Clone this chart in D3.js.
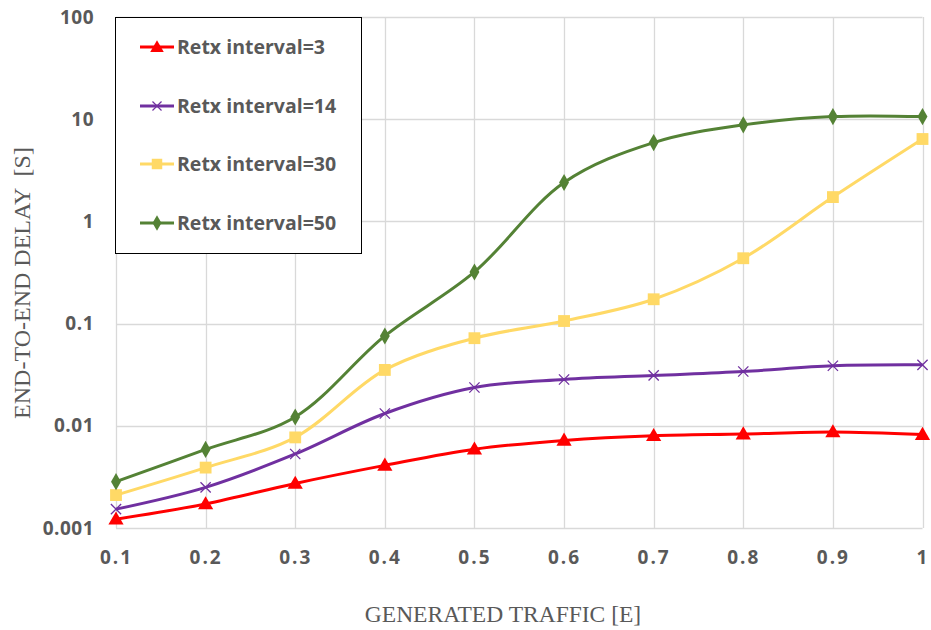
<!DOCTYPE html>
<html>
<head>
<meta charset="utf-8">
<script src="https://cdn.jsdelivr.net/npm/d3@7/dist/d3.min.js"></script>
<style>
  body { margin: 0; background: #fff; }
  svg { display: block; }
</style>
</head>
<body>
<svg id="chart"></svg>
<script>
// data
const traffic = [0.1, 0.2, 0.3, 0.4, 0.5, 0.6, 0.7, 0.8, 0.9, 1.0]
const retx3  = [0.00122, 0.00172, 0.00273, 0.0041, 0.0059, 0.0072, 0.0080, 0.0083, 0.0087, 0.0082]
const retx14 = [0.00153, 0.0025, 0.0053, 0.0132, 0.0237, 0.0284, 0.0311, 0.034, 0.0387, 0.0395]
const retx30 = [0.0021, 0.0039, 0.0077, 0.0352, 0.072, 0.106, 0.173, 0.436, 1.73, 6.4]
const retx50 = [0.00284, 0.00587, 0.0122, 0.0757, 0.32, 2.4, 5.9, 8.8, 10.6, 10.6]
const seriesNames = ['Retx interval=3', 'Retx interval=14', 'Retx interval=30', 'Retx interval=50']
const yTicks = [0.001, 0.01, 0.1, 1, 10, 100]
const yTickLabels = ['0.001', '0.01', '0.1', '1', '10', '100']

const width = 931
const height = 630
const margin = { top: 17, right: 8, bottom: 102, left: 116 }

const textColour = '#595959'
const gridColour = '#d9d9d9'

const series = [
  { name: seriesNames[0], values: retx3,  colour: '#ff0000', symbol: 'triangle' },
  { name: seriesNames[1], values: retx14, colour: '#7030a0', symbol: 'cross' },
  { name: seriesNames[2], values: retx30, colour: '#ffd966', symbol: 'square' },
  { name: seriesNames[3], values: retx50, colour: '#548235', symbol: 'diamond' }
]

const svg = d3.select('#chart')
  .attr('width', width)
  .attr('height', height)

/// Scales ///
const xScale = d3.scaleLinear()
  .domain([0.1, 1])
  .range([margin.left, width - margin.right - 0.5])

const yScale = d3.scaleLog()
  .domain([0.001, 100])
  .range([height - margin.bottom, margin.top])

/// Gridlines ///
const grid = svg.append('g')
grid.selectAll('.hgrid')
  .data(yTicks)
  .join('line')
  .attr('x1', margin.left).attr('x2', xScale(1))
  .attr('y1', d => Math.round(yScale(d)) + 0.5)
  .attr('y2', d => Math.round(yScale(d)) + 0.5)
  .attr('stroke', gridColour)
  .attr('stroke-width', 1.3)
grid.selectAll('.vgrid')
  .data(traffic)
  .join('line')
  .attr('x1', d => Math.round(xScale(d)) + 0.5)
  .attr('x2', d => Math.round(xScale(d)) + 0.5)
  .attr('y1', yScale(100)).attr('y2', yScale(0.001))
  .attr('stroke', gridColour)
  .attr('stroke-width', 1.3)

/// Axes (labels only) ///
const xAxis = g => g
  .attr('transform', `translate(0, ${height - margin.bottom})`)
  .call(d3.axisBottom(xScale)
    .tickValues(traffic)
    .tickSize(0)
    .tickPadding(23)
    .tickFormat(d => d === 1 ? '1' : d3.format('.1f')(d))
  )
  .call(g => g.select('.domain').remove())
  .call(g => g.selectAll('text')
    .attr('font-family', '"Open Sans", sans-serif')
    .attr('font-size', '19px')
    .attr('font-weight', 'bold')
    .attr('letter-spacing', '2px')
    .attr('fill', textColour)
  )

const yAxis = g => g
  .attr('transform', `translate(${margin.left}, 0)`)
  .call(d3.axisLeft(yScale)
    .tickValues(yTicks)
    .tickSize(0)
    .tickPadding(22)
    .tickFormat((d, i) => yTickLabels[i])
  )
  .call(g => g.select('.domain').remove())
  .call(g => g.selectAll('text')
    .attr('font-family', '"Open Sans", sans-serif')
    .attr('font-size', '19px')
    .attr('font-weight', 'bold')
    .attr('letter-spacing', '0.5px')
    .attr('fill', textColour)
  )

svg.append('g').call(xAxis)
svg.append('g').call(yAxis)

/// Axis titles ///
svg.append('text')
  .attr('x', 503)
  .attr('y', 622)
  .attr('text-anchor', 'middle')
  .attr('font-family', '"Liberation Serif", serif')
  .attr('font-size', '23.5px')
  .attr('fill', textColour)
  .text('GENERATED TRAFFIC [E]')

svg.append('text')
  .attr('transform', `translate(30, 283) rotate(-90)`)
  .attr('text-anchor', 'middle')
  .attr('font-family', '"Liberation Serif", serif')
  .attr('font-size', '24px')
  .attr('fill', textColour)
  .attr('xml:space', 'preserve')
  .text('END-TO-END DELAY  [S]')

/// Lines ///
const line = d3.line()
  .x((d, i) => xScale(traffic[i]))
  .y(d => yScale(d))
  .curve(d3.curveCatmullRom.alpha(0.5))

const symbolPath = (type, size) => {
  if (type === 'triangle') return d3.symbol(d3.symbolTriangle, size)()
  if (type === 'square') return d3.symbol(d3.symbolSquare, size)()
  if (type === 'diamond') return d3.symbol(d3.symbolDiamond, size)()
  return d3.symbol(d3.symbolX, size)()
}

const plotG = svg.append('g')
series.forEach(s => {
  plotG.append('path')
    .datum(s.values)
    .attr('d', line)
    .attr('fill', 'none')
    .attr('stroke', s.colour)
    .attr('stroke-width', 3)

  const sizes = { triangle: 100, square: 140, diamond: 85, cross: 70 }
  plotG.selectAll(null)
    .data(s.values)
    .join('path')
    .attr('transform', (d, i) => `translate(${xScale(traffic[i])}, ${yScale(d) + (s.symbol === 'triangle' ? 1 : 0)})`)
    .attr('d', symbolPath(s.symbol, sizes[s.symbol]))
    .attr('fill', s.symbol === 'cross' ? 'none' : s.colour)
    .attr('stroke', s.colour)
    .attr('stroke-width', s.symbol === 'cross' ? 1.3 : 0)
})

/// Legend ///
const legendG = svg.append('g')
legendG.append('rect')
  .attr('x', 115.5).attr('y', 17.5)
  .attr('width', 246).attr('height', 236)
  .attr('fill', '#fff')
  .attr('stroke', '#000')
  .attr('stroke-width', 1)

const legendRows = [47, 106, 164, 223]
series.forEach((s, i) => {
  const row = legendG.append('g')
    .attr('transform', `translate(0, ${legendRows[i]})`)
  row.append('line')
    .attr('x1', 140).attr('x2', 174)
    .attr('stroke', s.colour)
    .attr('stroke-width', 3)
  const sizes = { triangle: 80, square: 110, diamond: 70, cross: 55 }
  row.append('path')
    .attr('transform', `translate(157, ${s.symbol === 'triangle' ? 1 : 0})`)
    .attr('d', symbolPath(s.symbol, sizes[s.symbol]))
    .attr('fill', s.symbol === 'cross' ? 'none' : s.colour)
    .attr('stroke', s.colour)
    .attr('stroke-width', s.symbol === 'cross' ? 1.2 : 0)
  row.append('text')
    .attr('x', 177)
    .attr('y', 7)
    .attr('font-family', '"Open Sans", sans-serif')
    .attr('font-size', '19.5px')
    .attr('font-weight', 'bold')
    .attr('fill', textColour)
    .text(s.name)
})
</script>
</body>
</html>
